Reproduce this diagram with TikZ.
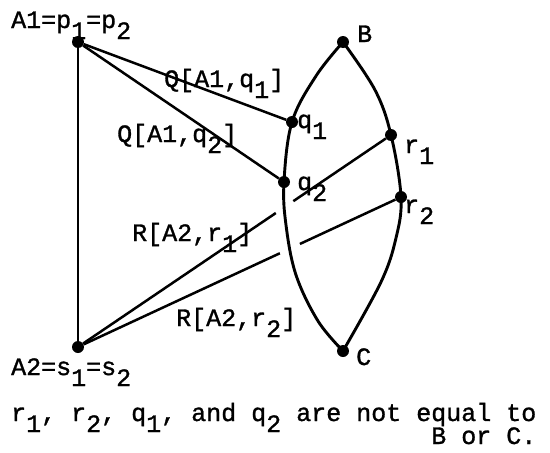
\documentclass[tikz,border=0pt]{standalone}
\usepackage{fontspec}
\setmainfont{Liberation Mono}[FakeBold=1.2]
\usetikzlibrary{calc}
\newcommand\lo[1]{\raisebox{-11pt}{#1}}
\begin{document}
\begin{tikzpicture}[x=1pt,y=-1pt,
  dot/.style={circle,fill=black,inner sep=0pt,minimum size=12pt},
  lbl/.style={inner sep=0pt,anchor=base west,font=\fontsize{25pt}{30pt}\selectfont},
  edge/.style={line width=2.5pt},
  arcline/.style={line width=2.9pt,line join=round,line cap=round}]
\useasboundingbox (0,0) rectangle (550,453);
% points
\node[dot] (A1) at (78,42) {};
\node[dot] (A2) at (78,347) {};
\node[dot] (B)  at (343,42) {};
\node[dot] (C)  at (343,351) {};
\node[dot] (q1) at (292,122) {};
\node[dot] (q2) at (284,182) {};
\node[dot] (r1) at (391,135) {};
\node[dot] (r2) at (401,197) {};
% lens
\draw[arcline] plot[smooth,tension=0.6] coordinates
  {(B.center) (316,76) (q1.center) (q2.center) (286,225) (296,275) (318,321) (C.center)};
\draw[arcline] plot[smooth,tension=0.6] coordinates
  {(B.center) (375,90) (r1.center) (r2.center) (396,238) (381,282) (C.center)};
% connectors
\draw[edge] (A1) -- (A2);
\draw[edge] (A1) -- (q1);
\draw[edge] (A1) -- (q2);
\draw[edge] (A2) -- ($(A2.center)!0.632!(r1.center)$) coordinate (r1gapa);
\draw[edge] ($(A2.center)!0.688!(r1.center)$) coordinate (r1gapb) -- (r1);
\draw[edge] (A2) -- ($(A2.center)!0.625!(r2.center)$) coordinate (r2gapa);
\draw[edge] ($(A2.center)!0.687!(r2.center)$) coordinate (r2gapb) -- (r2);
% labels
\node[lbl] (lA1) at (11,28) {A1=p\lo{1}=p\lo{2}};
\node[lbl] (lA2) at (11,375) {A2=s\lo{1}=s\lo{2}};
\node[lbl] (lQ1) at (164,87) {Q[A1,q\lo{1}]};
\node[lbl] (lQ2) at (117,142) {Q[A1,q\lo{2}]};
\node[lbl] (lR1) at (132,241) {R[A2,r\lo{1}]};
\node[lbl] (lR2) at (176,326) {R[A2,r\lo{2}]};
\node[lbl] (lB) at (357,42) {B};
\node[lbl] (lC) at (356,365) {C};
\node[lbl] (lq1) at (297,128) {q\lo{1}};
\node[lbl] (lq2) at (297,190) {q\lo{2}};
\node[lbl] (lr1) at (404,153) {r\lo{1}};
\node[lbl] (lr2) at (404,213) {r\lo{2}};
\node[lbl] (t1) at (11,421) {r\lo{1}, r\lo{2}, q\lo{1}, and q\lo{2} are not equal to};
\node[lbl,anchor=base east] (t2) at ($(t1.base east)+(0,23)$) {B or C.};
\end{tikzpicture}
\end{document}
